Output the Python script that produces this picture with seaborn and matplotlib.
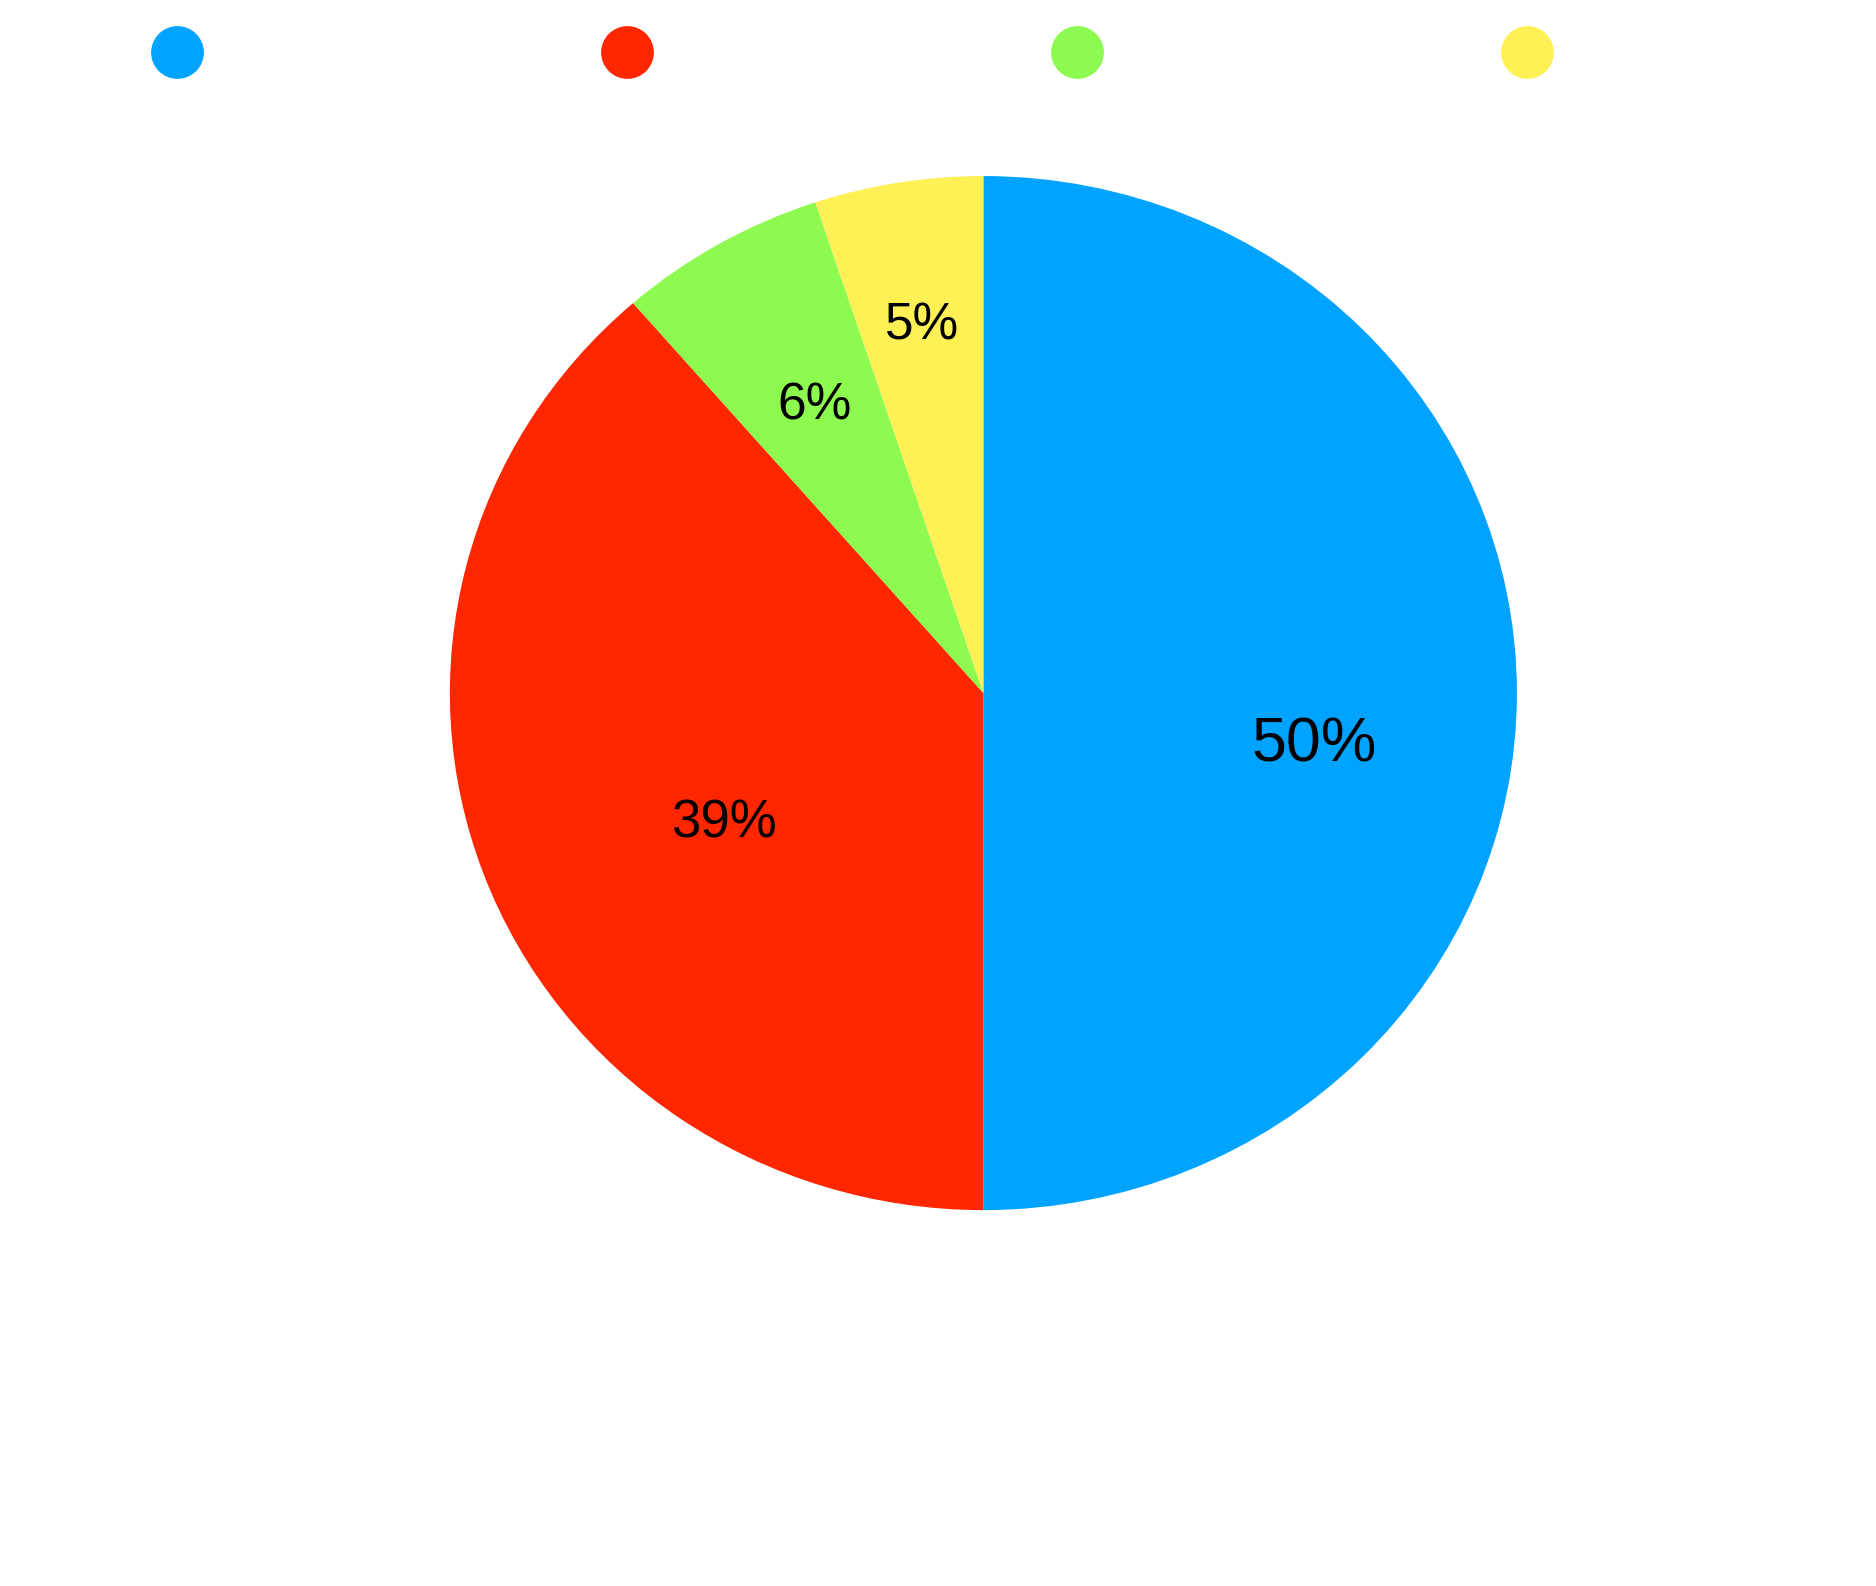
import numpy as np
import matplotlib
matplotlib.use("Agg")
import matplotlib.pyplot as plt
import seaborn as sns
from matplotlib.lines import Line2D

# Data (clockwise from the top)
categories = ["A", "B", "C", "D"]
shares = [50.0, 38.6, 6.3, 5.1]
colors = ["#00A3FF", "#FF2600", "#8CFA4E", "#FFF056"]

# label placement (fraction of radius) and font sizes per wedge
label_dist = [0.62, 0.52, 0.64, 0.72]
label_dy = [-0.10, -0.07, 0.0, 0.0]
label_size = [45, 38, 37, 37]

sns.set_theme(style="white")
plt.rcParams["font.family"] = ["Liberation Sans", "DejaVu Sans"]

fig = plt.figure(figsize=(18.76, 15.86), dpi=100)
ax = fig.add_axes([0.2398, 0.237, 0.5688, 0.652])

wedges, texts, autotexts = ax.pie(
    shares, colors=colors, startangle=90, counterclock=False,
    autopct=lambda p: f"{p:.0f}%", pctdistance=0.6,
    wedgeprops=dict(linewidth=0, edgecolor="none"),
)
ax.set_aspect("auto")
ax.set_xlim(-1, 1)
ax.set_ylim(-1, 1)

for w, t, d, dy, fs in zip(wedges, autotexts, label_dist, label_dy, label_size):
    mid = np.deg2rad((w.theta1 + w.theta2) / 2)
    t.set_position((d * np.cos(mid), d * np.sin(mid) + dy))
    t.set_fontsize(fs)
    t.set_color("black")
    t.set_ha("center")
    t.set_va("center")

handles = [Line2D([0], [0], marker="o", linestyle="none", markersize=38,
                  markerfacecolor=c, markeredgewidth=0) for c in colors]
fig.legend(handles, ["" for _ in categories], loc="center left",
           bbox_to_anchor=(0.0869, 0.9666), ncol=4, frameon=False,
           fontsize=10, handlelength=2, handletextpad=0,
           columnspacing=30.4, borderpad=0, borderaxespad=0)

fig.savefig("out.png", dpi=100, facecolor="white")
